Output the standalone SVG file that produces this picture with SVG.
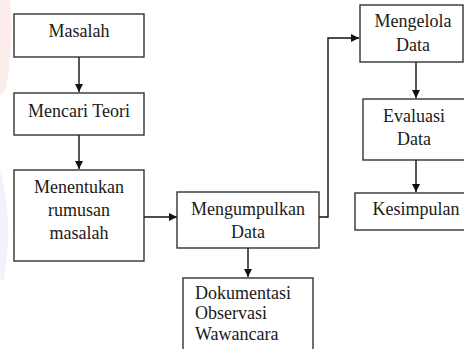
<svg xmlns="http://www.w3.org/2000/svg" width="464" height="349" viewBox="0 0 464 349">
<defs>
<marker id="ah" markerWidth="8" markerHeight="8" refX="8" refY="4" orient="auto" markerUnits="userSpaceOnUse">
<path d="M0,0 L8,4 L0,8 Z" fill="#111"/>
</marker>
</defs>
<style>
.box{fill:#fff;stroke:#333;stroke-width:1.4}
.ln{fill:none;stroke:#111;stroke-width:1.4}
</style>
<rect width="464" height="349" fill="#fff"/>
<g id="watermark" opacity="0.45">
<path d="M0,0 L10,0 Q14,40 6,90 L0,95 Z" fill="#fbd6d6"/>
<path d="M0,170 Q14,220 4,280 L0,280 Z" fill="#dfe6f7"/>
</g>
<g id="connectors">
<line class="ln" x1="79" y1="57" x2="79" y2="92" marker-end="url(#ah)"/>
<line class="ln" x1="79" y1="135" x2="79" y2="169" marker-end="url(#ah)"/>
<line class="ln" x1="144" y1="217" x2="177" y2="217" marker-end="url(#ah)"/>
<polyline class="ln" points="319,217 328,217 328,38 359,38" marker-end="url(#ah)"/>
<line class="ln" x1="416" y1="62" x2="416" y2="98" marker-end="url(#ah)"/>
<line class="ln" x1="416" y1="160" x2="416" y2="192" marker-end="url(#ah)"/>
<line class="ln" x1="248" y1="248" x2="248" y2="277" marker-end="url(#ah)"/>
</g>
<g font-family="Liberation Serif, Tinos, Times New Roman, DejaVu Serif, serif" font-size="18" fill="#1a1a1a">
<g id="masalah">
<rect class="box" x="14" y="14" width="130" height="43"/>
<text text-anchor="middle" x="79" y="37">Masalah</text>
</g>
<g id="mencari-teori">
<rect class="box" x="14" y="93" width="130" height="42"/>
<text text-anchor="middle" x="79" y="117">Mencari Teori</text>
</g>
<g id="menentukan">
<rect class="box" x="14" y="170" width="130" height="91"/>
<text text-anchor="middle" x="79" y="193">Menentukan</text>
<text text-anchor="middle" x="79" y="216">rumusan</text>
<text text-anchor="middle" x="79" y="239">masalah</text>
</g>
<g id="mengumpulkan">
<rect class="box" x="177" y="192" width="142" height="56"/>
<text text-anchor="middle" x="248" y="215">Mengumpulkan</text>
<text text-anchor="middle" x="248" y="238">Data</text>
</g>
<g id="mengelola">
<rect class="box" x="360" y="5" width="103" height="57"/>
<text text-anchor="middle" x="413" y="27">Mengelola</text>
<text text-anchor="middle" x="413" y="51">Data</text>
</g>
<g id="evaluasi">
<rect class="box" x="363" y="99" width="110" height="61"/>
<text text-anchor="middle" x="414" y="122">Evaluasi</text>
<text text-anchor="middle" x="414" y="145">Data</text>
</g>
<g id="kesimpulan">
<rect class="box" x="355" y="193" width="122" height="37"/>
<text text-anchor="middle" x="416" y="215">Kesimpulan</text>
</g>
<g id="dokumentasi">
<rect class="box" x="183" y="278" width="130" height="80"/>
<text x="195" y="299">Dokumentasi</text>
<text x="195" y="319">Observasi</text>
<text x="195" y="340">Wawancara</text>
</g>
</g>
</svg>
